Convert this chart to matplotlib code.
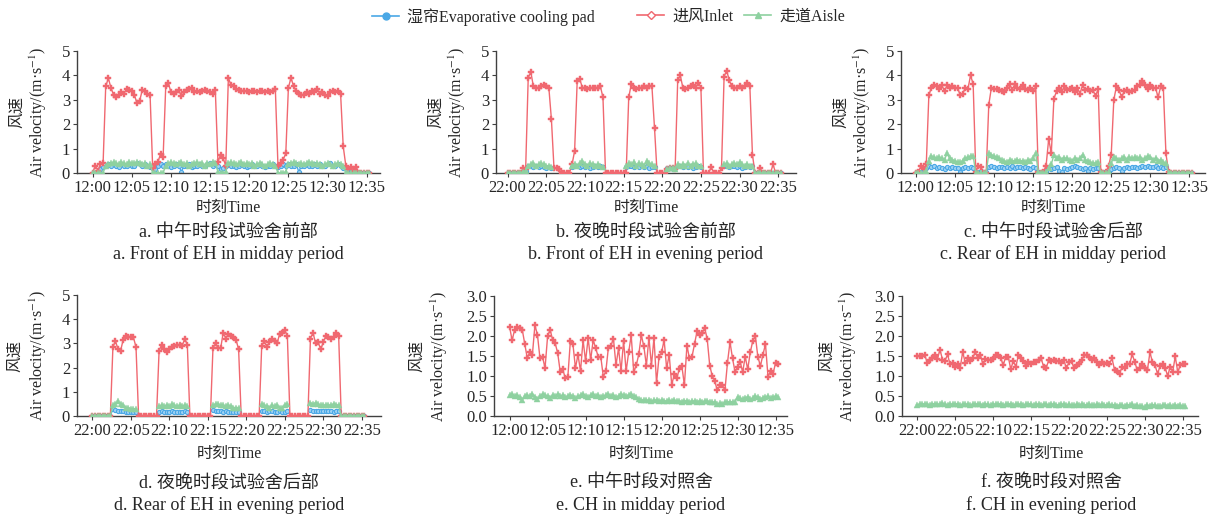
import numpy as np
import matplotlib
matplotlib.use('Agg')
from matplotlib import pyplot as plt
from matplotlib.lines import Line2D

plt.rcParams['font.family'] = ['Liberation Serif', 'Noto Sans CJK SC']
plt.rcParams['mathtext.fontset'] = 'stix'
plt.rcParams['axes.unicode_minus'] = False

nan = np.nan

# one reading every 20 s, 12:00/22:00 onwards
noon_labels = ['12:00', '12:05', '12:10', '12:15', '12:20', '12:25', '12:30', '12:35']
night_labels = ['22:00', '22:05', '22:10', '22:15', '22:20', '22:25', '22:30', '22:35']

# a. front of EH, midday
a_inlet = [0, 0.3, 0.1, 0.35, 0.4, 3.55, 3.88, 3.5, 3.2, 3.1,
           3.2, 3.3, 3.25, 3.45, 3.4, 3.35, 3.2, 2.85, 2.95, 3.4,
           3.35, 3.25, 3.2, 0.2, 0.35, 0.45, 0.78, 0.65, 3.55, 3.7,
           3.3, 3.25, 3.3, 3.4, 3.15, 3.3, 3.4, 3.45, 3.5, 3.3,
           3.35, 3.3, 3.35, 3.4, 3.35, 3.3, 3.25, 3.4, 0.45, 0.75,
           0.6, 0.3, 3.9, 3.6, 3.55, 3.45, 3.4, 3.35, 3.35, 3.35,
           3.3, 3.35, 3.35, 3.3, 3.35, 3.35, 3.3, 3.35, 3.3, 3.35,
           3.45, 0.3, 0.4, 0.55, 0.8, 3.5, 3.9, 3.55, 3.35, 3.25,
           3.2, 3.2, 3.3, 3.25, 3.35, 3.3, 3.45, 3.25, 3.3, 3.2,
           3.15, 3.3, 3.35, 3.3, 3.35, 3.25, 1.1, 0.3, 0.15, 0.25,
           0.1, 0.25, 0, 0, 0, 0, 0]
a_pad = [0, 0, 0.05, 0.15, 0.25, 0.3, 0.35, 0.3, 0.35, 0.3,
         0.25, 0.35, 0.3, 0.3, 0.35, 0.3, 0.3, 0.4, 0.35, 0.3,
         0.35, 0.3, 0.25, 0.2, 0.15, 0.3, 0.35, 0.3, 0.35, 0.3,
         0.25, 0.3, 0.35, 0.3, 0.05, 0.3, 0.3, 0.35, 0.25, 0.3,
         0.3, 0.35, 0.3, 0.3, 0.35, 0.4, 0.3, 0.35, 0.3, 0.15,
         0.2, 0.3, 0.35, 0.3, 0.3, 0.25, 0.3, 0.35, 0.3, 0.25,
         0.3, 0.35, 0.3, 0.3, 0.35, 0.3, 0.25, 0.3, 0.3, 0.35,
         0.3, 0.25, 0.3, 0.35, 0.3, 0.35, 0.3, 0.3, 0.35, 0.05,
         0.3, 0.3, 0.35, 0.3, 0.3, 0.35, 0.3, 0.35, 0.3, 0.3,
         0.35, 0.4, 0.3, 0.3, 0.35, 0.3, 0.2, 0.15, 0.05, 0.05,
         0, 0, 0, 0, 0, 0, 0]
a_aisle = [0, 0, 0, 0, 0, 0.3, 0.35, 0.4, 0.45, 0.4,
           0.35, 0.45, 0.4, 0.35, 0.45, 0.4, 0.4, 0.45, 0.4, 0.35,
           0.4, 0.3, 0.35, 0, 0, 0, 0, 0, 0.3, 0.4,
           0.45, 0.4, 0.35, 0.4, 0.45, 0.35, 0.4, 0.3, 0.35, 0.4,
           0.45, 0.35, 0.4, 0.3, 0.4, 0.35, 0.45, 0.4, 0.05, 0,
           0, 0.05, 0.4, 0.45, 0.4, 0.35, 0.4, 0.45, 0.35, 0.4,
           0.35, 0.4, 0.3, 0.35, 0.4, 0.35, 0.3, 0.35, 0.4, 0.35,
           0.3, 0, 0, 0, 0.05, 0.35, 0.4, 0.45, 0.4, 0.35,
           0.4, 0.35, 0.4, 0.45, 0.4, 0.35, 0.4, 0.35, 0.3, 0.35,
           0.4, 0.35, 0.3, 0.35, 0.4, 0.35, 0.3, 0, 0, 0,
           0, 0, 0, 0, 0, 0, 0]

# b. front of EH, evening
b_inlet = [0, 0, 0, 0, 0, 0, 0.2, 0.15, 3.9, 4.15,
           3.55, 3.5, 3.5, 3.55, 3.6, 3.55, 3.5, 2.2, 0.2, 0.2,
           0.15, 0, 0, 0, 0, 0.35, 0.9, 3.75, 3.85, 3.5,
           3.5, 3.45, 3.5, 3.5, 3.5, 3.5, 3.55, 3.1, 0, 0,
           0, 0, 0, 0, 0, 0, 0, 3.1, 3.65, 3.5,
           3.45, 3.5, 3.5, 3.55, 3.5, 3.55, 3.55, 1.85, 0, 0,
           0, 0, 0.15, 0.2, 0.2, 0.15, 3.8, 4.0, 3.5, 3.45,
           3.5, 3.55, 3.6, 3.5, 3.7, 3.5, 0, 0, 0, 0.25,
           0, 0, 0, 0.2, 3.95, 4.2, 3.8, 3.55, 3.5, 3.5,
           3.55, 3.5, 3.55, 3.7, 3.55, 0.75, 0, 0, 0.2, 0,
           0, 0, 0, 0.35, 0, 0, 0]
b_pad = [0, 0, 0, 0, 0, 0, 0.05, 0.1,
         0.3, 0.3, 0.25, 0.3, 0.25, 0.3, 0.25, 0.2, 0.25, 0.2,
         nan, nan, nan, nan, nan, nan, nan,
         0.25, 0.3, 0.3, 0.25, 0.3, 0.25, 0.3, 0.2, 0.25, 0.3, 0.25, 0.3, 0.25,
         nan, nan, nan, nan, nan, nan, nan, nan,
         0.25, 0.3, 0.3, 0.25, 0.3, 0.25, 0.3, 0.25, 0.3, 0.2, 0.25, 0.25,
         nan, nan, nan, nan,
         0.2, 0.2, 0.15, 0.2, 0.3, 0.3, 0.25, 0.3, 0.25, 0.3, 0.2, 0.25, 0.3, 0.25,
         nan, nan, nan, nan, nan, nan, nan, nan,
         0.3, 0.3, 0.25, 0.3, 0.3, 0.25, 0.3, 0.2, 0.25, 0.3, 0.25, 0.3,
         0, 0, 0, 0, 0, 0, 0, 0, 0, 0, 0]
b_aisle = [0, 0, 0, 0, 0, 0, 0.05, 0.1,
           0.3, 0.35, 0.4, 0.3, 0.35, 0.4, 0.35, 0.3, 0.3, 0.25,
           nan, nan, nan, nan, nan, nan, nan,
           0.3, 0.35, 0.3, 0.4, 0.5, 0.35, 0.3, 0.4, 0.35, 0.3, 0.35, 0.3, 0.25,
           nan, nan, nan, nan, nan, nan, nan, nan,
           0.3, 0.4, 0.35, 0.45, 0.3, 0.4, 0.35, 0.3, 0.5, 0.4, 0.35, 0.3,
           nan, nan, nan, nan,
           0.15, 0.2, 0.2, 0.15, 0.35, 0.3, 0.35, 0.3, 0.4, 0.3, 0.35, 0.4, 0.3, 0.3,
           nan, nan, nan, nan, nan, nan, nan, nan,
           0.35, 0.4, 0.3, 0.35, 0.4, 0.35, 0.45, 0.35, 0.3, 0.35, 0.3, 0.3,
           0, 0, 0, 0, 0, 0, 0, 0, 0, 0, 0]

# c. rear of EH, midday
c_inlet = [0, 0.05, 0.3, 0.15, 0.35, 3.2, 3.5, 3.6, 3.55, 3.45,
           3.6, 3.35, 3.6, 3.5, 3.55, 3.5, 3.5, 3.2, 3.25, 3.5,
           3.45, 4.0, 3.65, 0.05, 0.3, 0.25, 0, 0, 2.8, 3.5,
           3.45, 3.45, 3.4, 3.35, 3.3, 3.5, 3.65, 3.4, 3.65, 3.5,
           3.45, 3.6, 3.45, 3.4, 3.5, 3.35, 3.55, 0.05, 0, 0.05,
           0.3, 1.4, 0.8, 3.05, 3.35, 3.5, 3.3, 3.55, 3.4, 3.45,
           3.5, 3.3, 3.5, 3.25, 3.6, 3.4, 3.45, 3.35, 3.4, 3.15,
           3.45, 0.05, 0, 0.05, 0.3, 0.75, 3.0, 3.55, 3.4, 3.1,
           3.35, 3.4, 3.3, 3.35, 3.4, 3.55, 3.6, 3.75, 3.6, 3.45,
           3.6, 3.5, 3.5, 3.1, 3.55, 3.5, 0.8, 0.05, 0, 0,
           0, 0, 0, 0, 0, 0, 0]
c_pad = [0, 0, 0.05, 0.15, 0.2, 0.3, 0.25, 0.3, 0.2, 0.25,
         0.2, 0.15, 0.25, 0.2, 0.25, 0.2, 0.2, 0.05, 0.2, 0.25,
         0.2, 0.25, 0.2, 0.05, 0.05, 0.1, 0.05, 0.05, 0.25, 0.3,
         0.25, 0.2, 0.25, 0.25, 0.2, 0.25, 0.2, 0.3, 0.2, 0.25,
         0.25, 0.2, 0.25, 0.2, 0.15, 0.25, 0.2, 0.05, 0.05, 0.05,
         0.1, 0.2, 0.15, 0.2, 0.25, 0.1, 0.05, 0.2, 0.15, 0.2,
         0.25, 0.3, 0.25, 0.2, 0.15, 0.2, 0.1, 0.2, 0.15, 0.2,
         0.2, 0.05, 0.05, 0.05, 0.1, 0.15, 0.2, 0.25, 0.2, 0.1,
         0.2, 0.25, 0.2, 0.25, 0.25, 0.2, 0.25, 0.3, 0.25, 0.3,
         0.25, 0.25, 0.3, 0.2, 0.25, 0.2, 0.25, 0.05, 0, 0,
         0, 0, 0, 0, 0, 0, 0]
c_aisle = [0, 0, 0, 0, 0.1, 0.5, 0.7, 0.65, 0.6, 0.65,
           0.6, 0.55, 0.8, 0.6, 0.55, 0.5, 0.45, 0.45, 0.5, 0.6,
           0.65, 0.7, 0.7, 0, 0, 0, 0, 0, 0.8, 0.75,
           0.7, 0.65, 0.6, 0.55, 0.5, 0.45, 0.55, 0.5, 0.5, 0.55,
           0.5, 0.5, 0.45, 0.55, 0.5, 0.6, 0.8, 0.05, 0, 0,
           0.05, 0.2, 0.35, 0.75, 0.6, 0.65, 0.55, 0.6, 0.6, 0.55,
           0.5, 0.6, 0.55, 0.6, 0.75, 0.55, 0.5, 0.45, 0.4, 0.4,
           0.45, 0, 0, 0, 0.05, 0.4, 0.65, 0.6, 0.55, 0.6,
           0.65, 0.55, 0.65, 0.6, 0.65, 0.6, 0.65, 0.55, 0.6, 0.7,
           0.65, 0.55, 0.6, 0.5, 0.55, 0.45, 0.4, 0, 0, 0,
           0, 0, 0, 0, 0, 0, 0]

# d. rear of EH, evening
d_inlet = [0, 0, 0, 0, 0, 0, 0, 0, 2.85, 3.1,
           2.75, 2.7, 3.15, 3.3, 3.25, 3.25, 3.25, 2.85, 0, 0,
           0, 0, 0, 0, 0, 0, 2.7, 2.95, 2.75, 2.65,
           2.75, 2.85, 2.9, 2.95, 2.95, 2.9, 3.2, 2.95, 0, 0,
           0, 0, 0, 0, 0, 0, 0, 2.8, 3.0, 2.8,
           2.8, 3.45, 3.2, 3.4, 3.3, 3.25, 3.15, 2.75, 0, 0,
           0, 0, 0, 0, 0, 0, 2.9, 3.1, 2.85, 3.05,
           3.2, 3.1, 3.0, 3.4, 3.45, 3.55, 3.3, 0, 0, 0,
           0, 0, 0, 0, 0, 3.2, 3.45, 3.0, 3.05, 2.75,
           3.05, 3.3, 3.25, 3.2, 3.25, 3.45, 3.3, 0, 0, 0,
           0, 0, 0, 0, 0, 0, 0]
d_pad = [0, 0, 0, 0, 0, 0, 0, 0,
         0.3, 0.25, 0.2, 0.2, 0.2, 0.15, 0.15, 0.15, 0.15, 0.15,
         nan, nan, nan, nan, nan, nan, nan, nan,
         0.15, 0.2, 0.15, 0.15, 0.15, 0.2, 0.15, 0.15, 0.15, 0.15, 0.2, 0.15,
         nan, nan, nan, nan, nan, nan, nan, nan, nan,
         0.25, 0.2, 0.2, 0.2, 0.15, 0.2, 0.15, 0.15, 0.15, 0.15, 0.15,
         nan, nan, nan, nan, nan, nan, nan, nan,
         0.2, 0.2, 0.15, 0.2, 0.2, 0.15, 0.15, 0.2, 0.15, 0.15, 0.2,
         nan, nan, nan, nan, nan, nan, nan, nan,
         0.25, 0.2, 0.2, 0.2, 0.2, 0.2, 0.2, 0.2, 0.2, 0.15, 0.2, 0.2,
         0, 0, 0, 0, 0, 0, 0, 0, 0, 0]
d_aisle = [0, 0, 0, 0, 0, 0, 0, 0,
           0.45, 0.5, 0.6, 0.5, 0.45, 0.35, 0.35, 0.3, 0.3, 0.3,
           nan, nan, nan, nan, nan, nan, nan, nan,
           0.4, 0.45, 0.4, 0.45, 0.4, 0.5, 0.45, 0.4, 0.45, 0.4, 0.45, 0.4,
           nan, nan, nan, nan, nan, nan, nan, nan, nan,
           0.45, 0.5, 0.5, 0.45, 0.45, 0.4, 0.45, 0.4, 0.35, 0.35, 0.35,
           nan, nan, nan, nan, nan, nan, nan, nan,
           0.5, 0.45, 0.4, 0.35, 0.45, 0.4, 0.45, 0.35, 0.35, 0.45, 0.5,
           nan, nan, nan, nan, nan, nan, nan, nan,
           0.55, 0.5, 0.55, 0.5, 0.45, 0.45, 0.45, 0.45, 0.45, 0.5, 0.45, 0.45,
           0, 0, 0, 0, 0, 0, 0, 0, 0, 0]

# e. CH, midday
e_inlet = [2.23, 1.89, 2.16, 2.22, 2.2, 2.16, 1.8, 1.44, 1.61, 1.53,
           2.27, 2.03, 1.44, 1.48, 1.2, 1.99, 2.16, 1.9, 1.82, 1.57,
           1.1, 1.17, 0.94, 0.98, 1.88, 1.8, 1.2, 1.53, 1.12, 1.9,
           1.37, 1.95, 1.4, 1.9, 1.69, 1.48, 1.48, 0.98, 1.12, 1.71,
           1.76, 1.93, 1.27, 1.69, 1.12, 1.88, 1.12, 1.59, 2.02, 1.1,
           1.27, 1.54, 2.02, 1.74, 1.26, 1.96, 1.26, 1.96, 0.83, 1.48,
           1.59, 1.9, 1.19, 1.53, 0.78, 1.04, 0.95, 1.17, 1.25, 0.77,
           1.76, 1.44, 1.48, 1.8, 2.12, 2.03, 2.07, 2.2, 1.93, 1.26,
           1.0, 0.87, 0.64, 0.77, 0.77, 0.64, 1.33, 1.85, 1.44, 1.1,
           1.23, 1.36, 1.1, 1.48, 1.17, 1.59, 1.88, 2.0, 1.48, 1.25,
           1.53, 1.8, 0.98, 1.12, 1.06, 1.33, 1.3]
e_aisle = [0.52, 0.55, 0.5, 0.52, 0.48, 0.4, 0.5, 0.52, 0.5, 0.55,
           0.48, 0.42, 0.5, 0.55, 0.52, 0.5, 0.45, 0.52, 0.5, 0.55,
           0.5, 0.52, 0.48, 0.5, 0.53, 0.5, 0.45, 0.5, 0.52, 0.55,
           0.5, 0.48, 0.52, 0.55, 0.5, 0.52, 0.48, 0.5, 0.52, 0.55,
           0.5, 0.52, 0.48, 0.5, 0.55, 0.52, 0.5, 0.53, 0.55, 0.5,
           0.48, 0.42, 0.4, 0.4, 0.39, 0.4, 0.38, 0.4, 0.39, 0.38,
           0.4, 0.38, 0.37, 0.39, 0.38, 0.4, 0.37, 0.38, 0.36, 0.38,
           0.37, 0.36, 0.38, 0.37, 0.36, 0.38, 0.36, 0.37, 0.38, 0.36,
           0.35, 0.34, 0.3, 0.32, 0.31, 0.34, 0.35, 0.36, 0.35, 0.36,
           0.47, 0.44, 0.42, 0.46, 0.48, 0.42, 0.45, 0.5, 0.48, 0.43,
           0.46, 0.48, 0.5, 0.45, 0.47, 0.5, 0.48]

# f. CH, evening
f_inlet = [1.5, 1.49, 1.5, 1.52, 1.33, 1.39, 1.46, 1.52, 1.42, 1.66,
           1.41, 1.38, 1.54, 1.29, 1.33, 1.23, 1.31, 1.21, 1.6, 1.33,
           1.44, 1.38, 1.46, 1.6, 1.44, 1.52, 1.29, 1.42, 1.41, 1.41,
           1.42, 1.52, 1.52, 1.46, 1.27, 1.48, 1.48, 1.17, 1.38, 1.23,
           1.52, 1.44, 1.38, 1.24, 1.35, 1.31, 1.34, 1.35, 1.41, 1.44,
           1.23, 1.21, 1.39, 1.38, 1.39, 1.38, 1.38, 1.33, 1.39, 1.19,
           1.35, 1.38, 1.19, 1.27, 1.31, 1.39, 1.52, 1.52, 1.48, 1.39,
           1.44, 1.35, 1.27, 1.35, 1.31, 1.33, 1.31, 1.44, 1.16, 1.13,
           1.06, 1.23, 1.21, 1.31, 1.31, 1.54, 1.35, 1.15, 1.19, 1.29,
           1.19, 1.15, 1.59, 1.35, 1.27, 1.06, 1.24, 1.29, 1.21, 1.0,
           1.23, 1.1, 1.49, 1.1, 1.27, 1.29, 1.31]
f_aisle = [0.28, 0.3, 0.29, 0.31, 0.3, 0.28, 0.3, 0.31, 0.29, 0.3,
           0.32, 0.3, 0.28, 0.3, 0.29, 0.31, 0.3, 0.28, 0.29, 0.3,
           0.29, 0.27, 0.3, 0.29, 0.31, 0.3, 0.28, 0.3, 0.29, 0.28,
           0.3, 0.29, 0.31, 0.3, 0.28, 0.29, 0.3, 0.31, 0.28, 0.3,
           0.29, 0.3, 0.28, 0.29, 0.31, 0.3, 0.28, 0.3, 0.29, 0.28,
           0.3, 0.29, 0.28, 0.3, 0.29, 0.28, 0.27, 0.29, 0.3, 0.28,
           0.29, 0.28, 0.27, 0.29, 0.28, 0.3, 0.28, 0.27, 0.29, 0.28,
           0.27, 0.29, 0.28, 0.3, 0.27, 0.28, 0.29, 0.27, 0.28, 0.26,
           0.28, 0.27, 0.26, 0.28, 0.27, 0.29, 0.26, 0.27, 0.25, 0.24,
           0.23, 0.27, 0.26, 0.28, 0.27, 0.26, 0.25, 0.27, 0.28, 0.26,
           0.27, 0.25, 0.28, 0.26, 0.27, 0.25, 0.26]

titles_cn = ['a. 中午时段试验舍前部', 'b. 夜晚时段试验舍前部', 'c. 中午时段试验舍后部',
             'd. 夜晚时段试验舍后部', 'e. 中午时段对照舍', 'f. 夜晚时段对照舍']
titles_en = ['a. Front of EH in midday period', 'b. Front of EH in evening period',
             'c. Rear of EH in midday period', 'd. Rear of EH in evening period',
             'e. CH in midday period', 'f. CH in evening period']

BLUE = '#4aa8e6'
RED = '#f06870'
GREEN = '#8ed1a0'
INK = '#262626'
W, H = 1214, 518

fig = plt.figure(figsize=(W / 100, H / 100), dpi=100)


def px_axes(left, top, right, bottom):
	return fig.add_axes([left / W, 1 - bottom / H, (right - left) / W, (bottom - top) / H])


def draw(ax, inlet, aisle, pad=None):
	x = np.arange(len(inlet)) / 3  # minutes
	if pad is not None:
		ax.plot(x, pad, color=BLUE, lw=1, marker='o', ms=3, mfc='#9fd2f4', mec=BLUE, mew=0.8, zorder=2)
	ax.plot(x, inlet, color=RED, lw=1, marker='P', ms=4, mfc=RED, mec=RED, mew=0.3, zorder=3)
	ax.plot(x, aisle, color=GREEN, lw=1, marker='^', ms=4, mfc=GREEN, mec=GREEN, mew=0.3, zorder=4)


def style(ax, xlim, tlabels, ymax, ystep, fmt, lab_off, idx, cx, row_y):
	ax.set_xlim(*xlim)
	ax.set_ylim(0, ymax)
	ax.set_xticks(np.arange(0, 36, 5))
	ax.set_xticklabels(tlabels)
	yt = np.arange(0, ymax + 1e-6, ystep)
	ax.set_yticks(yt)
	ax.set_yticklabels([fmt.format(v) for v in yt])
	for s in ['top', 'right']:
		ax.spines[s].set_visible(False)
	for s in ['left', 'bottom']:
		ax.spines[s].set_color('#404040')
		ax.spines[s].set_linewidth(1)
	ax.tick_params(direction='out', length=3, width=0.8, color='#404040', labelsize=12,
		labelcolor=INK, pad=2)
	wpx = ax.get_position().width * W
	ax.text(lab_off[0] / wpx, 0.5, '风速', transform=ax.transAxes, rotation=90,
		ha='center', va='center', fontsize=11.5, color=INK, family='Noto Sans CJK SC')
	ax.text(lab_off[1] / wpx, 0.5, 'Air velocity/(m·s$^{-1}$)', transform=ax.transAxes,
		rotation=90, ha='center', va='center', fontsize=11.5, color=INK, family='Liberation Serif')
	fig.text(cx / W, 1 - row_y[0] / H, '时刻Time', ha='center', va='center', fontsize=11.5, color=INK)
	fig.text(cx / W, 1 - row_y[1] / H, titles_cn[idx], ha='center', va='center', fontsize=13, color=INK)
	fig.text(cx / W, 1 - row_y[2] / H, titles_en[idx], ha='center', va='center', fontsize=13, color=INK)


row1 = (208, 232, 254)
row2 = (454, 483, 505)

ax = px_axes(77, 51, 380, 173)
draw(ax, a_inlet, a_aisle, a_pad)
style(ax, (-2.0, 36.7), noon_labels, 5, 1, '{:.0f}', (-60, -39), 0, 228, row1)

ax = px_axes(496, 51, 796, 173)
draw(ax, b_inlet, b_aisle, b_pad)
style(ax, (-1.5, 37.3), night_labels, 5, 1, '{:.0f}', (-60, -39), 1, 646, row1)

ax = px_axes(901, 51, 1205, 173)
draw(ax, c_inlet, c_aisle, c_pad)
style(ax, (-1.9, 37.0), noon_labels, 5, 1, '{:.0f}', (-60, -39), 2, 1053, row1)

ax = px_axes(77, 295, 381, 416)
draw(ax, d_inlet, d_aisle, d_pad)
style(ax, (-2.0, 37.5), night_labels, 5, 1, '{:.0f}', (-62, -39), 3, 229, row2)

ax = px_axes(494, 296, 787, 416)
draw(ax, e_inlet, e_aisle)
style(ax, (-2.05, 36.5), noon_labels, 3.0, 0.5, '{:.1f}', (-77, -55), 4, 641, row2)

ax = px_axes(902, 296, 1198, 416)
draw(ax, f_inlet, f_aisle)
style(ax, (-2.0, 37.0), night_labels, 3.0, 0.5, '{:.1f}', (-75, -54), 5, 1051, row2)

# legend: three entries placed like the original
entries = [
	(Line2D([], [], color=BLUE, lw=1.2, marker='o', ms=5, mfc=BLUE, mec=BLUE), '湿帘Evaporative cooling pad', 372),
	(Line2D([], [], color=RED, lw=1.2, marker='D', ms=4, mfc='white', mec=RED, mew=1), '进风Inlet', 637),
	(Line2D([], [], color=GREEN, lw=1.2, marker='^', ms=5, mfc=GREEN, mec=GREEN), '走道Aisle', 744),
]
for h, lab, xpx in entries:
	leg = fig.legend([h], [lab], loc='center left', bbox_to_anchor=(xpx / W, 1 - 17 / H),
		frameon=False, fontsize=11.5, handlelength=1.7, handletextpad=0.5,
		borderpad=0, borderaxespad=0, labelcolor=INK)

fig.savefig('out.png', dpi=100)
